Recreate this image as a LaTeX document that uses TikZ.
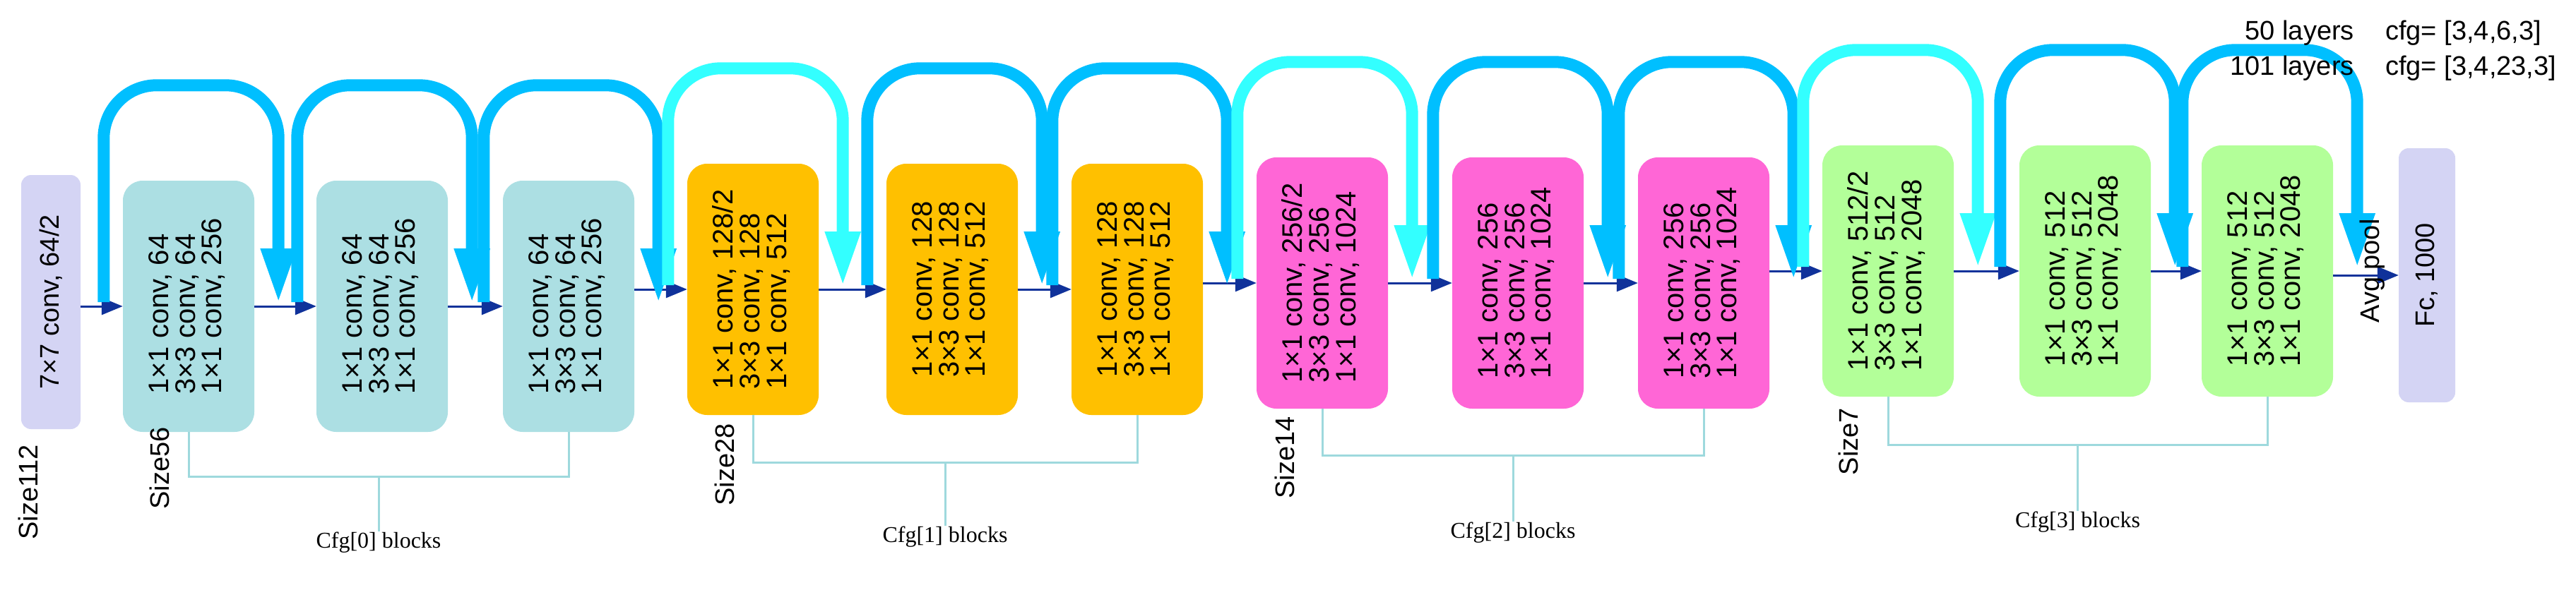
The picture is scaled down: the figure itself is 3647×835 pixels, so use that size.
\documentclass[tikz,border=0pt]{standalone}
\usepackage{fontspec}
\setmainfont{Liberation Sans}
\newfontfamily\serifcfg{Liberation Serif}
\usetikzlibrary{arrows.meta, calc}
\definecolor{conv}{HTML}{D4D4F4}
\definecolor{tealb}{HTML}{ACDFE3}
\definecolor{orab}{HTML}{FFC000}
\definecolor{pinkb}{HTML}{FF66D6}
\definecolor{greenb}{HTML}{B3FF99}
\definecolor{skip}{HTML}{00BFFF}
\definecolor{skipl}{HTML}{33FFFF}
\definecolor{flow}{HTML}{10329A}
\definecolor{brk}{HTML}{9ED9DD}
\newcommand{\blocktext}[3]{\rotatebox{90}{\fontsize{40}{33}\selectfont\begin{tabular}{@{}l@{}}#1\\#2\\#3\end{tabular}}}
\begin{document}
\begin{tikzpicture}[x=1pt, y=-1pt,
    every node/.style={font=\fontsize{38}{34}\selectfont, inner sep=0pt},
    blk/.style={rounded corners=28pt, minimum width=186pt, minimum height=356pt},
    flat/.style={rounded corners=14pt, minimum width=84pt, minimum height=360pt, fill=conv},
    link/.style={draw=flow, line width=3pt, -{Triangle[width=24pt,length=30pt]}},
    res/.style={draw=skip, line width=17pt, rounded corners=75pt, -{Triangle[width=46pt,length=78pt]}},
    resl/.style={res, draw=skipl},
    br/.style={draw=brk, line width=3pt},
    cfg/.style={font=\serifcfg\fontsize{32}{32}\selectfont},
    sz/.style={rotate=90, anchor=east}
  ]
  \useasboundingbox (0,0) rectangle (3647,835);

  % stem and head
  \node[flat] (c1) at (72,428) {\rotatebox{90}{7×7 conv, 64/2}};
  \node[flat, minimum width=80pt] (fc) at (3436,390) {\rotatebox{90}{Fc, 1000}};

  % stage 0
  \node[blk, fill=tealb] (t1) at (267,434) {\blocktext{1×1 conv, 64}{3×3 conv, 64}{1×1 conv, 256}};
  \node[blk, fill=tealb] (t2) at (541,434) {\blocktext{1×1 conv, 64}{3×3 conv, 64}{1×1 conv, 256}};
  \node[blk, fill=tealb] (t3) at (805,434) {\blocktext{1×1 conv, 64}{3×3 conv, 64}{1×1 conv, 256}};
  % stage 1
  \node[blk, fill=orab] (o1) at (1066,410) {\blocktext{1×1 conv, 128/2}{3×3 conv, 128}{1×1 conv, 512}};
  \node[blk, fill=orab] (o2) at (1348,410) {\blocktext{1×1 conv, 128}{3×3 conv, 128}{1×1 conv, 512}};
  \node[blk, fill=orab] (o3) at (1610,410) {\blocktext{1×1 conv, 128}{3×3 conv, 128}{1×1 conv, 512}};
  % stage 2
  \node[blk, fill=pinkb] (p1) at (1872,401) {\blocktext{1×1 conv, 256/2}{3×3 conv, 256}{1×1 conv, 1024}};
  \node[blk, fill=pinkb] (p2) at (2149,401) {\blocktext{1×1 conv, 256}{3×3 conv, 256}{1×1 conv, 1024}};
  \node[blk, fill=pinkb] (p3) at (2412,401) {\blocktext{1×1 conv, 256}{3×3 conv, 256}{1×1 conv, 1024}};
  % stage 3
  \node[blk, fill=greenb] (g1) at (2673,384) {\blocktext{1×1 conv, 512/2}{3×3 conv, 512}{1×1 conv, 2048}};
  \node[blk, fill=greenb] (g2) at (2952,384) {\blocktext{1×1 conv, 512}{3×3 conv, 512}{1×1 conv, 2048}};
  \node[blk, fill=greenb] (g3) at (3210,384) {\blocktext{1×1 conv, 512}{3×3 conv, 512}{1×1 conv, 2048}};

  % forward connections
  \foreach \a/\b in {c1/t1, t1/t2, t2/t3, t3/o1, o1/o2, o2/o3, o3/p1, p1/p2, p2/p3, p3/g1, g1/g2, g2/g3, g3/fc}
    \path[link] (\a.east |- \b.center) -- (\b.west);

  % shortcut arcs
  \foreach \b/\s in {t1/res, t2/res, t3/res, o1/resl, o2/res, o3/res, p1/resl, p2/res, p3/res, g1/resl, g2/res, g3/res}
    \path[\s] ($(\b.west)+(-27,-6)$) -- ($(\b.north west)+(-27,-135)$) -- ($(\b.north east)+(34,-135)$) -- ($(\b.east)+(34,-4)$);

  \node[rotate=90] (avg) at (3359,384) {Avg pool};

  % size labels
  \node[sz] (s112) at (40,630) {Size112};
  \node[sz] (s56) at (226,605) {Size56};
  \node[sz] (s28) at (1026,600) {Size28};
  \node[sz] (s14) at (1819,590) {Size14};
  \node[sz] (s7) at (2617,578) {Size7};

  % cfg brackets
  \path[br] (t1.south) -- (t1.south |- 0,675) -| (t3.south);
  \node[cfg] (k0) at ($(t1.south)!0.5!(t3.south) + (0,156)$) {Cfg[0] blocks};
  \path[br] ($(t1.south |- 0,675)!0.5!(t3.south |- 0,675)$) -- (k0.north);
  \path[br] (o1.south) -- (o1.south |- 0,655) -| (o3.south);
  \node[cfg] (k1) at ($(o1.south)!0.5!(o3.south) + (0,172)$) {Cfg[1] blocks};
  \path[br] ($(o1.south |- 0,655)!0.5!(o3.south |- 0,655)$) -- (k1.north);
  \path[br] (p1.south) -- (p1.south |- 0,645) -| (p3.south);
  \node[cfg] (k2) at ($(p1.south)!0.5!(p3.south) + (0,175)$) {Cfg[2] blocks};
  \path[br] ($(p1.south |- 0,645)!0.5!(p3.south |- 0,645)$) -- (k2.north);
  \path[br] (g1.south) -- (g1.south |- 0,630) -| (g3.south);
  \node[cfg] (k3) at ($(g1.south)!0.5!(g3.south) + (0,177)$) {Cfg[3] blocks};
  \path[br] ($(g1.south |- 0,630)!0.5!(g3.south |- 0,630)$) -- (k3.north);

  % legend
  \node[anchor=east] (l50) at (3333,47) {50 layers};
  \node[anchor=west] (c50) at (3377,47) {cfg= [3,4,6,3]};
  \node[anchor=east] (l101) at (3333,97) {101 layers};
  \node[anchor=west] (c101) at (3377,97) {cfg= [3,4,23,3]};
\end{tikzpicture}
\end{document}
